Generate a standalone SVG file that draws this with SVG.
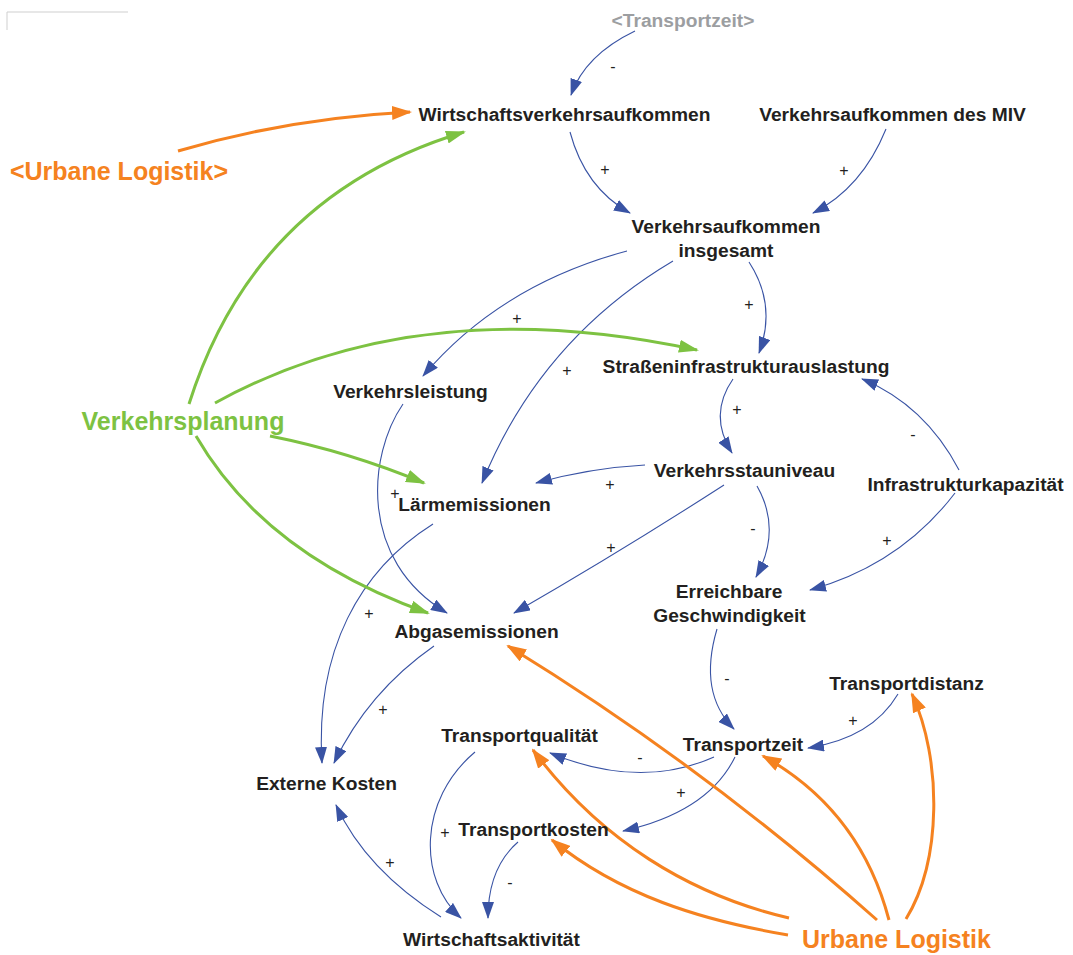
<svg xmlns="http://www.w3.org/2000/svg" width="1073" height="955" viewBox="0 0 1073 955">
  <style>
    .node { font-family: "Liberation Sans", Arial, sans-serif; font-weight: bold; font-size: 19.2px; fill: #231f20; text-anchor: middle; }
    .shadow { fill: #9c9ea1; }
    .big { font-family: "Liberation Sans", Arial, sans-serif; font-weight: bold; font-size: 25px; text-anchor: middle; }
    .green-t { fill: #7dc242; }
    .orange-t { fill: #f58220; }
    .pol { font-family: "Liberation Sans", Arial, sans-serif; font-size: 16px; fill: #231f20; text-anchor: middle; }
    .blue { fill: none; stroke: #3953a4; stroke-width: 1.1; marker-end: url(#arrow-blue); }
    .green { fill: none; stroke: #7dc242; stroke-width: 3; marker-end: url(#arrow-green); }
    .orange { fill: none; stroke: #f58220; stroke-width: 3; marker-end: url(#arrow-orange); }
  </style>
  <defs>
    <marker id="arrow-blue" markerUnits="userSpaceOnUse" markerWidth="17" markerHeight="12" refX="16" refY="6" orient="auto" viewBox="0 0 17 12">
      <path d="M0,0 L17,6 L0,12 z" fill="#3953a4"/>
    </marker>
    <marker id="arrow-green" markerUnits="userSpaceOnUse" markerWidth="20" markerHeight="13" refX="18" refY="6.5" orient="auto" viewBox="0 0 20 13">
      <path d="M0,0 L20,6.5 L0,13 z" fill="#7dc242"/>
    </marker>
    <marker id="arrow-orange" markerUnits="userSpaceOnUse" markerWidth="20" markerHeight="14" refX="18" refY="7" orient="auto" viewBox="0 0 20 14">
      <path d="M0,0 L20,7 L0,14 z" fill="#f58220"/>
    </marker>
  </defs>

  <rect width="1073" height="955" fill="#ffffff"/>

  <!-- thin frame corner at the top left -->
  <path d="M7,30 L7,12 L128,12" fill="none" stroke="#cfcfcf" stroke-width="1"/>

  <g id="connectors">
    <!-- causal links -->
    <path class="blue" d="M635,31 Q585,55 571,95"/>
    <path class="blue" d="M570,132 Q585,188 630,213"/>
    <path class="blue" d="M886,129 Q862,188 813,213"/>
    <path class="blue" d="M627,251 Q500,285 423,376"/>
    <path class="blue" d="M673,261 Q540,340 482,483"/>
    <path class="blue" d="M749,262 Q777,305 759,353"/>
    <path class="blue" d="M733,379 Q708,415 732,453"/>
    <path class="blue" d="M959,470 Q925,405 862,379"/>
    <path class="blue" d="M955,493 Q900,565 810,590"/>
    <path class="blue" d="M757,486 Q782,530 756,577"/>
    <path class="blue" d="M645,465 Q590,468 536,483"/>
    <path class="blue" d="M724,485 Q620,552 514,613"/>
    <path class="blue" d="M403,404 C368,455 358,560 447,613"/>
    <path class="blue" d="M433,524 C360,570 315,650 322,763"/>
    <path class="blue" d="M434,646 Q368,692 334,763"/>
    <path class="blue" d="M441,917 Q366,870 336,805"/>
    <path class="blue" d="M475,752 C418,800 418,880 461,918"/>
    <path class="blue" d="M518,842 Q488,868 488,918"/>
    <path class="blue" d="M717,629 Q698,693 734,729"/>
    <path class="blue" d="M898,694 Q872,738 808,748"/>
    <path class="blue" d="M714,757 Q640,790 550,753"/>
    <path class="blue" d="M735,757 Q708,812 623,831"/>

    <!-- planning influences -->
    <path class="green" d="M189,404 Q255,195 464,132"/>
    <path class="green" d="M215,403 Q420,290 697,350"/>
    <path class="green" d="M270,436 Q350,452 424,483"/>
    <path class="green" d="M196,436 Q265,555 428,613"/>

    <!-- logistics influences -->
    <path class="orange" d="M178,151 Q290,118 410,112"/>
    <path class="orange" d="M877,920 Q705,767 508,646"/>
    <path class="orange" d="M889,920 Q860,810 763,756"/>
    <path class="orange" d="M906,919 C942,860 942,760 912,694"/>
    <path class="orange" d="M789,918 C690,895 600,840 533,750"/>
    <path class="orange" d="M788,935 C700,920 620,895 552,840"/>

    <!-- polarity labels -->
    <text class="pol" x="613" y="72">-</text>
    <text class="pol" x="605" y="175">+</text>
    <text class="pol" x="844" y="176">+</text>
    <text class="pol" x="517" y="324">+</text>
    <text class="pol" x="567" y="376">+</text>
    <text class="pol" x="749" y="310">+</text>
    <text class="pol" x="737" y="415">+</text>
    <text class="pol" x="913" y="440">-</text>
    <text class="pol" x="887" y="546">+</text>
    <text class="pol" x="753" y="534">-</text>
    <text class="pol" x="610" y="490">+</text>
    <text class="pol" x="611" y="553">+</text>
    <text class="pol" x="395" y="499">+</text>
    <text class="pol" x="369" y="619">+</text>
    <text class="pol" x="383" y="715">+</text>
    <text class="pol" x="390" y="868">+</text>
    <text class="pol" x="445" y="838">+</text>
    <text class="pol" x="510" y="888">-</text>
    <text class="pol" x="727" y="684">-</text>
    <text class="pol" x="853" y="726">+</text>
    <text class="pol" x="640" y="763">-</text>
    <text class="pol" x="681" y="798">+</text>
  </g>

  <g id="transportzeit-shadow"><text class="node shadow" x="683" y="27">&lt;Transportzeit&gt;</text></g>
  <g id="wirtschaftsverkehrsaufkommen"><text class="node" x="564.5" y="121">Wirtschaftsverkehrsaufkommen</text></g>
  <g id="verkehrsaufkommen-miv"><text class="node" x="892.5" y="120.5">Verkehrsaufkommen des MIV</text></g>
  <g id="verkehrsaufkommen-insgesamt">
    <text class="node" x="726" y="233">Verkehrsaufkommen</text>
    <text class="node" x="726" y="256.5">insgesamt</text>
  </g>
  <g id="urbane-logistik-shadow"><text class="big orange-t" x="119" y="180">&lt;Urbane Logistik&gt;</text></g>
  <g id="strasseninfrastrukturauslastung"><text class="node" x="746" y="373">Straßeninfrastrukturauslastung</text></g>
  <g id="verkehrsleistung"><text class="node" x="410.5" y="398">Verkehrsleistung</text></g>
  <g id="verkehrsplanung"><text class="big green-t" x="183" y="430">Verkehrsplanung</text></g>
  <g id="laermemissionen"><text class="node" x="474.5" y="510.5">Lärmemissionen</text></g>
  <g id="verkehrsstauniveau"><text class="node" x="744.5" y="476.5">Verkehrsstauniveau</text></g>
  <g id="infrastrukturkapazitaet"><text class="node" x="965.5" y="490.5">Infrastrukturkapazität</text></g>
  <g id="erreichbare-geschwindigkeit">
    <text class="node" x="729" y="598">Erreichbare</text>
    <text class="node" x="729.5" y="621.5">Geschwindigkeit</text>
  </g>
  <g id="abgasemissionen"><text class="node" x="476.5" y="638">Abgasemissionen</text></g>
  <g id="transportdistanz"><text class="node" x="906.5" y="690">Transportdistanz</text></g>
  <g id="transportqualitaet"><text class="node" x="519.5" y="741.5">Transportqualität</text></g>
  <g id="transportzeit"><text class="node" x="743" y="750.5">Transportzeit</text></g>
  <g id="externe-kosten"><text class="node" x="326.5" y="790">Externe Kosten</text></g>
  <g id="transportkosten"><text class="node" x="533.5" y="836">Transportkosten</text></g>
  <g id="wirtschaftsaktivitaet"><text class="node" x="491.5" y="946">Wirtschaftsaktivität</text></g>
  <g id="urbane-logistik"><text class="big orange-t" x="896.5" y="948">Urbane Logistik</text></g>
</svg>
